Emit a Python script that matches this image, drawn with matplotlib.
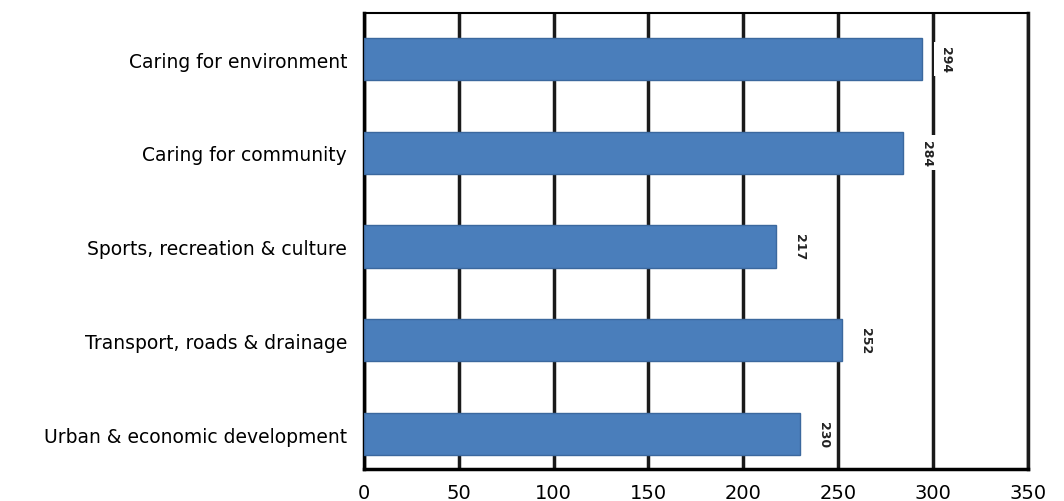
import matplotlib.pyplot as plt

# categories top to bottom as in the picture
categories = ["Caring for environment", "Caring for community",
              "Sports, recreation & culture", "Transport, roads & drainage",
              "Urban & economic development"]
values = [294, 284, 217, 252, 230]
xticks = [0, 50, 100, 150, 200, 250, 300, 350]

plt.rcParams['font.family'] = ['DejaVu Sans']

fig = plt.figure(figsize=(10.64, 5.02), dpi=100)
ax = fig.add_axes([0.342, 0.064, 0.624, 0.908])

pos = list(range(len(categories)))[::-1]
bars = ax.barh(pos, values, height=0.45, color='#4a7ebb', edgecolor='#3b689e', linewidth=1, zorder=3)

for p, v in zip(pos, values):
    ax.annotate(str(v), (v, p), xytext=(17, 0), textcoords='offset points',
                rotation=-90, ha='center', va='center', fontsize=9, fontweight='bold',
                color='#222222', zorder=4,
                bbox=dict(boxstyle='square,pad=0.35', fc='white', ec='none'))

ax.set_xlim(0, 350)
ax.set_ylim(-0.37, 4.49)
ax.set_xticks(xticks)
ax.set_xticklabels([str(t) for t in xticks], fontsize=14)
ax.set_yticks(pos)
ax.set_yticklabels(categories, fontsize=13.5)
ax.tick_params(axis='y', length=0, pad=12)
ax.tick_params(axis='x', length=0, pad=10)
ax.grid(axis='x', color='#1a1a1a', linewidth=2.5, zorder=1)

for s in ['left', 'bottom']:
    ax.spines[s].set_linewidth(2.5)
    ax.spines[s].set_color('black')
ax.spines['top'].set_linewidth(1.5)
ax.spines['right'].set_linewidth(2.5)
ax.spines['right'].set_color('#1a1a1a')

fig.savefig('out.png', dpi=100)
